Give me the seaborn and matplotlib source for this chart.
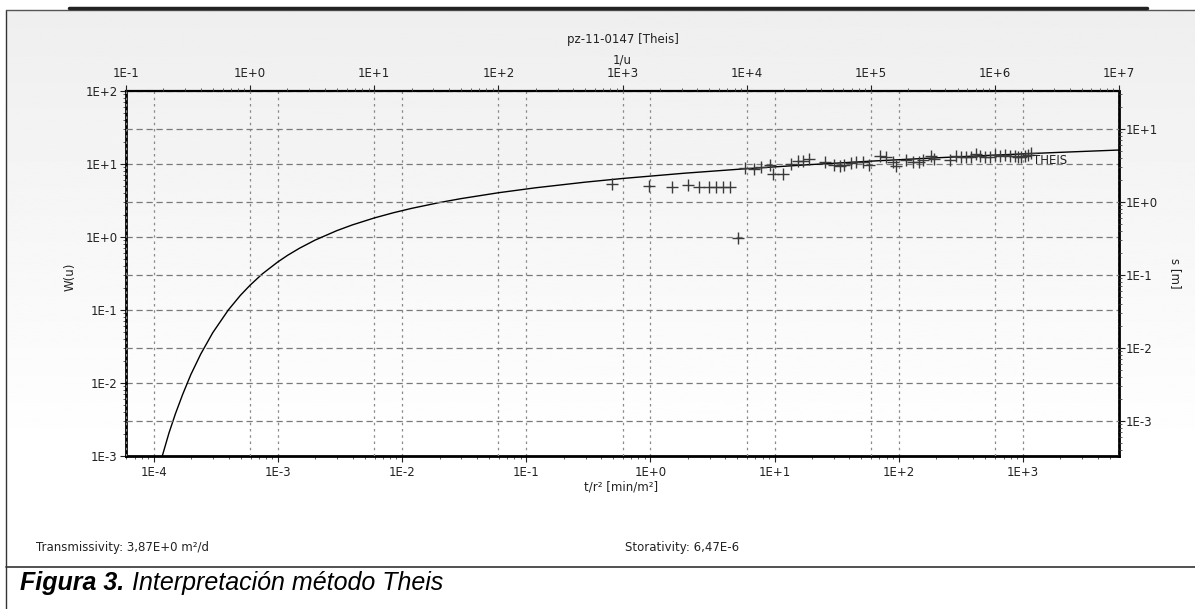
import numpy as np
import matplotlib
matplotlib.use("Agg")
import matplotlib.pyplot as plt
from matplotlib.lines import Line2D
from matplotlib.ticker import NullFormatter
import seaborn as sns

# Theis type curve: 1/u (top axis) and W(u) (left axis)
theis_inv_u = [0.196, 0.222, 0.25, 0.286, 0.333, 0.4, 0.5, 0.667, 0.833, 1.0,
               1.25, 1.667, 2.0, 2.5, 3.333, 5.0, 6.667, 10.0, 14.29, 20.0,
               33.33, 50.0, 100.0, 200.0, 500.0, 1e3, 3.16e3, 1e4, 3.16e4,
               1e5, 3.16e5, 1e6, 3.16e6, 1e7]
theis_w = [1.0e-3, 2.07e-3, 3.78e-3, 6.97e-3, 1.305e-2, 2.49e-2, 4.89e-2, 0.100,
           0.158, 0.219, 0.311, 0.454, 0.560, 0.702, 0.906, 1.223, 1.465, 1.823,
           2.151, 2.468, 2.959, 3.355, 4.038, 4.726, 5.639, 6.332, 7.48, 8.633,
           9.78, 10.94, 12.09, 13.24, 14.39, 15.54]

# observed drawdown: t/r2 [min/m2] (bottom axis) and s [m] (right axis)
t_r2 = [0.49, 0.98, 1.50, 2.0, 2.45, 2.94, 3.39, 3.83, 4.39, 5.06,
        5.73, 6.89, 7.80, 9.11, 9.68, 11.7, 13.6, 15.4, 16.9, 19.1,
        25.3, 30.4, 33.4, 36.6, 41.5, 45.5, 51.4, 58.2, 70.1, 79.4,
        89.8, 95.5, 115, 130, 147, 157, 183, 194, 257, 291,
        319, 350, 384, 416, 448, 492, 540, 592, 650, 713,
        782, 859, 913, 972, 1033, 1099, 1169]
s_obs = [1.76, 1.67, 1.62, 1.72, 1.58, 1.58, 1.58, 1.58, 1.58, 0.323,
         2.91, 2.82, 3.03, 3.23, 2.41, 2.41, 3.30, 3.66, 3.66, 3.86,
         3.58, 3.23, 3.13, 3.23, 3.47, 3.58, 3.58, 3.23, 4.29, 4.15,
         3.58, 3.15, 3.70, 3.51, 3.51, 3.70, 4.25, 3.90, 3.70, 4.25,
         4.11, 4.11, 4.11, 4.56, 4.25, 4.11, 4.11, 4.33, 4.25, 4.42,
         4.25, 4.25, 4.11, 4.11, 4.25, 4.33, 4.71]

bottom_ticks = [1e-4, 1e-3, 1e-2, 1e-1, 1e0, 1e1, 1e2, 1e3]
bottom_labels = ['1E-4', '1E-3', '1E-2', '1E-1', '1E+0', '1E+1', '1E+2', '1E+3']
top_ticks = [1e-1, 1e0, 1e1, 1e2, 1e3, 1e4, 1e5, 1e6, 1e7]
top_labels = ['1E-1', '1E+0', '1E+1', '1E+2', '1E+3', '1E+4', '1E+5', '1E+6', '1E+7']
left_ticks = [1e-3, 1e-2, 1e-1, 1e0, 1e1, 1e2]
left_labels = ['1E-3', '1E-2', '1E-1', '1E+0', '1E+1', '1E+2']
right_ticks = [1e-3, 1e-2, 1e-1, 1e0, 1e1]
right_labels = ['1E-3', '1E-2', '1E-1', '1E+0', '1E+1']

W, H = 1195, 609


def fx(px):
    return px / W


def fy(py):
    return 1 - py / H


sns.set_style("white")
plt.rcParams['font.family'] = ['DejaVu Sans']

fig = plt.figure(figsize=(11.95, 6.09), dpi=100)
fig.patch.set_facecolor('white')

# light gray panel fading to white
bg = fig.add_axes([fx(6), fy(567), fx(1195) - fx(6), fy(10) - fy(567)], zorder=-5)
grad = np.minimum(1.0, 0.935 + 0.065 * np.linspace(0, 1, 256) / 0.8).reshape(-1, 1)
bg.imshow(grad, cmap='gray', vmin=0, vmax=1, aspect='auto', extent=[0, 1, 0, 1])
bg.axis('off')

ax = fig.add_axes([fx(126), fy(456), fx(1119) - fx(126), fy(91) - fy(456)])
ax.set_facecolor('none')
ax.set_xscale('log')
ax.set_yscale('log')

ax_top = ax.twiny()
ax_top.set_xscale('log')
ax_right = ax.twinx()
ax_right.set_yscale('log')

# type curve on 1/u vs W(u), observations on t/r2 vs s
sns.lineplot(x=theis_inv_u, y=theis_w, ax=ax_top, color='black', linewidth=1.0,
             sort=False, estimator=None)
sns.scatterplot(x=t_r2, y=s_obs, ax=ax_right, marker='+', s=65, color='#3a3a3a',
                linewidth=1.0)

ax.set_xlim(10 ** -4.225, 10 ** 3.775)
ax.set_ylim(1e-3, 1e2)
ax_top.set_xlim(1e-1, 1e7)
ax_right.set_ylim(10 ** -3.48, 10 ** 1.52)

ax.set_xticks(bottom_ticks, bottom_labels)
ax.set_yticks(left_ticks, left_labels)
ax_top.set_xticks(top_ticks, top_labels)
ax_right.set_yticks(right_ticks, right_labels)
for a in (ax.xaxis, ax.yaxis, ax_top.xaxis, ax_right.yaxis):
    a.set_minor_formatter(NullFormatter())

vgrid = dict(linestyle=(0, (2, 3)), color='#8a8a8a', linewidth=0.9)
hgrid = dict(linestyle=(0, (5, 3)), color='#7a7a7a', linewidth=0.9)
ax.xaxis.grid(True, which='major', **vgrid)
ax_top.xaxis.grid(True, which='major', **vgrid)
ax.yaxis.grid(True, which='major', **hgrid)
ax_right.yaxis.grid(True, which='major', **hgrid)

for a in (ax, ax_top, ax_right):
    a.tick_params(which='major', length=4, width=0.8, color='#222222',
                  labelsize=8.5, labelcolor='#222222', direction='out')
    a.tick_params(which='minor', length=2.5, width=0.6, color='#444444',
                  direction='out')
    a.set_xlabel('')
    a.set_ylabel('')
ax.tick_params(axis='y', pad=2)
ax.tick_params(axis='x', pad=3)
ax_top.tick_params(axis='x', pad=4)
ax_right.tick_params(axis='y', pad=1)

for a in (ax_top, ax_right):
    for sp in a.spines.values():
        sp.set_visible(False)
for side in ('left', 'right', 'bottom'):
    ax.spines[side].set_visible(True)
    ax.spines[side].set_linewidth(2.0)
    ax.spines[side].set_color('black')
ax.spines['top'].set_visible(True)
ax.spines['top'].set_linewidth(1.6)
ax.spines['top'].set_linestyle((0, (4, 1)))
ax.spines['top'].set_color('black')

txt = dict(fontsize=8.5, color='#222222', ha='center', va='center')
fig.text(fx(623), fy(40), 'pz-11-0147 [Theis]', **txt)
fig.text(fx(622), fy(60), '1/u', **txt)
fig.text(fx(70), fy(277), 'W(u)', rotation=90, **txt)
fig.text(fx(1175), fy(273), 's [m]', rotation=270, **txt)
fig.text(fx(621), fy(487), 't/r² [min/m²]', **txt)
fig.text(fx(1033), fy(161), 'THEIS', fontsize=8.5, color='#222222', ha='left', va='center')
fig.text(fx(36), fy(547), 'Transmissivity: 3,87E+0 m²/d', fontsize=8.5, color='#222222',
         ha='left', va='center')
fig.text(fx(625), fy(547), 'Storativity: 6,47E-6', fontsize=8.5, color='#222222',
         ha='left', va='center')

# frame around the figure and caption
frame = [((6, 6), (10, 609), '#333333', 1.0),
         ((6, 1195), (10, 10), '#555555', 1.0),
         ((69, 1147), (8, 8), '#222222', 2.5),
         ((6, 1195), (567, 567), '#333333', 1.2)]
for xs, ys, c, lw in frame:
    fig.add_artist(Line2D([fx(xs[0]), fx(xs[1])], [fy(ys[0]), fy(ys[1])],
                          color=c, linewidth=lw, transform=fig.transFigure))

fig.text(fx(20), fy(583), 'Figura 3.', fontsize=18, fontweight='bold', fontstyle='italic',
         family=['Liberation Sans'], ha='left', va='center', color='black')
fig.text(fx(132), fy(583), 'Interpretación método Theis', fontsize=18, fontstyle='italic',
         family=['Liberation Sans'], ha='left', va='center', color='black')

fig.savefig('out.png', dpi=100)
